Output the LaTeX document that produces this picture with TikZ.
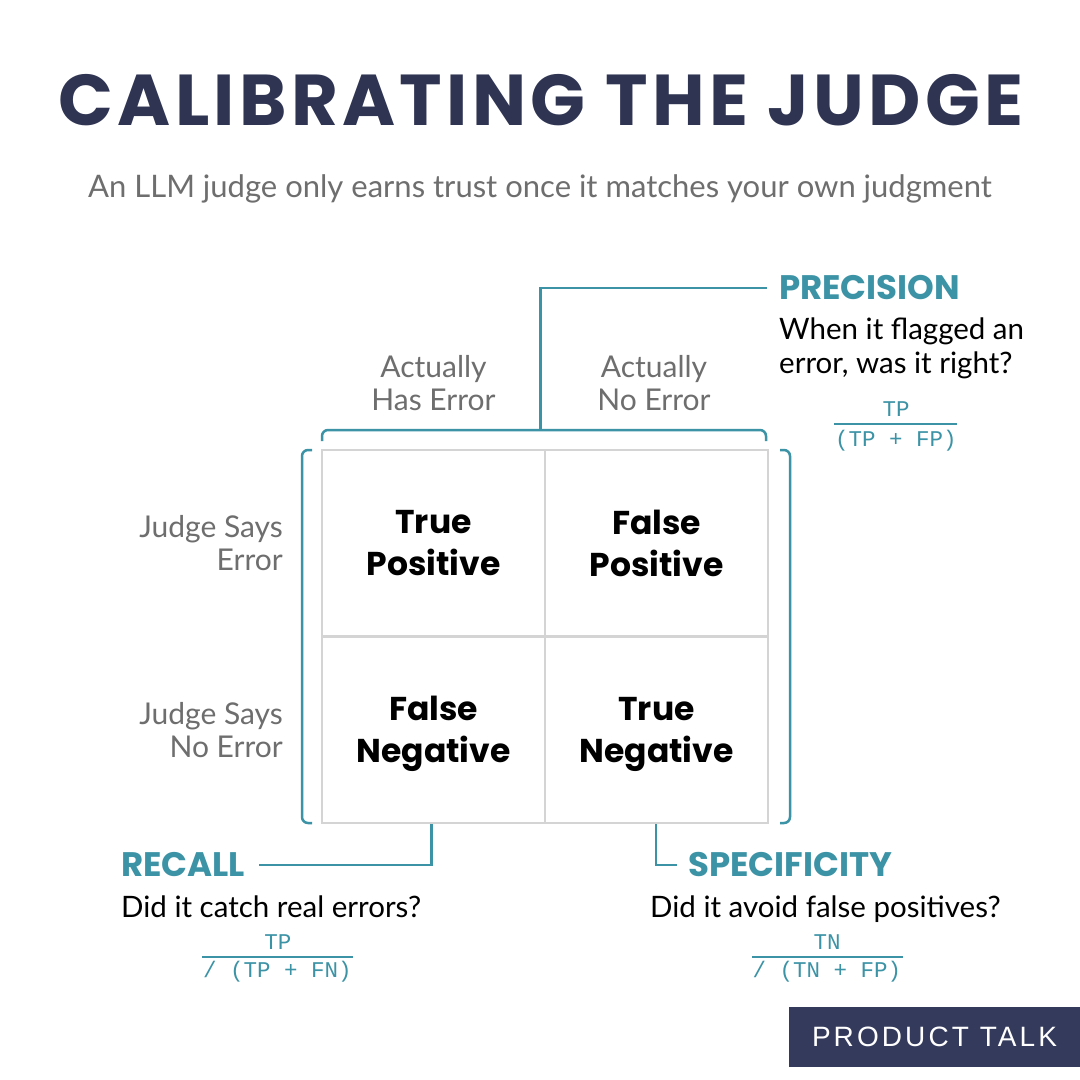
\documentclass[tikz,border=0pt]{standalone}
\usepackage{fontspec}
\setmainfont{Lato}
\newfontfamily\headfont{Poppins}
\newfontfamily\titlefont{Poppins}[LetterSpace=6]
\newfontfamily\codefont{Liberation Mono}
\newfontfamily\brandfont{Liberation Sans}[LetterSpace=11]

\definecolor{navy}{HTML}{2F3452}
\definecolor{judgeteal}{HTML}{3C93A6}
\definecolor{labelgray}{HTML}{6E6E6E}
\definecolor{gridgray}{HTML}{D4D4D4}
\definecolor{brandnavy}{HTML}{343A5C}

\tikzset{
    cell/.style={draw=gridgray, line width=2.3pt, minimum width=223pt, minimum height=186.5pt,
        inner sep=0pt, align=center, font=\headfont\bfseries\fontsize{33}{42}\selectfont},
    axislabel/.style={text=labelgray, inner sep=0pt, font=\fontsize{30}{33}\selectfont},
    metric/.style={text=judgeteal, anchor=west, inner sep=0pt, font=\headfont\bfseries\fontsize{34}{36}\selectfont},
    question/.style={anchor=north west, align=left, inner sep=0pt, font=\fontsize{29.5}{34}\selectfont},
    formula/.style={text=judgeteal, inner sep=0pt, font=\codefont\fontsize{22.5}{26}\selectfont},
    fracbar/.style={judgeteal, line width=1.2pt},
    link/.style={judgeteal, line width=2.5pt},
    bracket/.style={judgeteal, line width=2.5pt, rounded corners=6pt}
}

\begin{document}
\begin{tikzpicture}[x=1pt, y=-1pt]
    \useasboundingbox[fill=white] (0,0) rectangle (1080,1080);

    % Title
    \node[anchor=base, text=navy, inner sep=0pt, font=\titlefont\bfseries\fontsize{72}{76}\selectfont]
        (title) at (541,125) {CALIBRATING THE JUDGE};
    \node[anchor=base, text=labelgray, inner sep=0pt, font=\fontsize{31}{36}\selectfont]
        (subtitle) at (540,197) {An LLM judge only earns trust once it matches your own judgment};

    % Matrix cells
    \node[cell] (tp) at (433.5,543.25) {True\\Positive};
    \node[cell] (fp) at (656.5,543.25) {False\\Positive};
    \node[cell] (fn) at (433.5,729.75) {False\\\smash{Negative}};
    \node[cell] (tn) at (656.5,729.75) {True\\\smash{Negative}};

    % Column and row labels
    \node[axislabel, align=center] (colerr) at (433.5,383) {Actually\\Has Error};
    \node[axislabel, align=center] (colok) at (654,383) {Actually\\No Error};
    \node[axislabel, align=right, anchor=east] (rowerr) at (283,543.25) {Judge Says\\Error};
    \node[axislabel, align=right, anchor=east] (rowok) at (283,729.75) {Judge Says\\No Error};

    % Brackets round the matrix
    \draw[bracket] (322,441) -- (322,430) -- (766,430) -- (766,441);
    \draw[bracket] (312,450) -- (302,450) -- (302,823) -- (312,823);
    \draw[bracket] (780,450) -- (790,450) -- (790,823) -- (780,823);
    \coordinate (topmid) at (540.7,430);

    % Precision
    \node[metric] (prec) at (779,288) {PRECISION};
    \node[question] (precq) at (779,318) {When it flagged an\\error, was it right?};
    \node[formula] (precnum) at (896,409) {TP};
    \node[formula] (precden) at (896,441) {(TP + FP)};
    \draw[fracbar] (834,424) -- (957,424);
    \draw[link] (topmid) |- ([xshift=-12pt]prec.west);

    % Recall
    \node[metric] (rec) at (121,865) {RECALL};
    \node[question] (recq) at (121,896) {Did it catch real errors?};
    \node[formula] (recnum) at (278,942) {TP};
    \node[formula] (recden) at (277.5,972) {/ (TP + FN)};
    \draw[fracbar] (202,957) -- (353,957);
    \draw[link] ([xshift=-1.8pt]fn.south) |- ([xshift=14pt]rec.east);

    % Specificity
    \node[metric] (spec) at (688,865) {SPECIFICITY};
    \node[question] (specq) at (650,896) {Did it avoid false positives?};
    \node[formula] (specnum) at (827,942) {TN};
    \node[formula] (specden) at (827,972) {/ (TN + FP)};
    \draw[fracbar] (752,957) -- (903,957);
    \draw[link] ([xshift=-0.5pt]tn.south) |- ([xshift=-11pt]spec.west);

    % Brand
    \node[fill=brandnavy, text=white, minimum width=291pt, minimum height=60pt, inner sep=0pt,
        font=\brandfont\fontsize{28}{30}\selectfont] (brand) at (934.5,1037) {PRODUCT TALK};
\end{tikzpicture}
\end{document}
